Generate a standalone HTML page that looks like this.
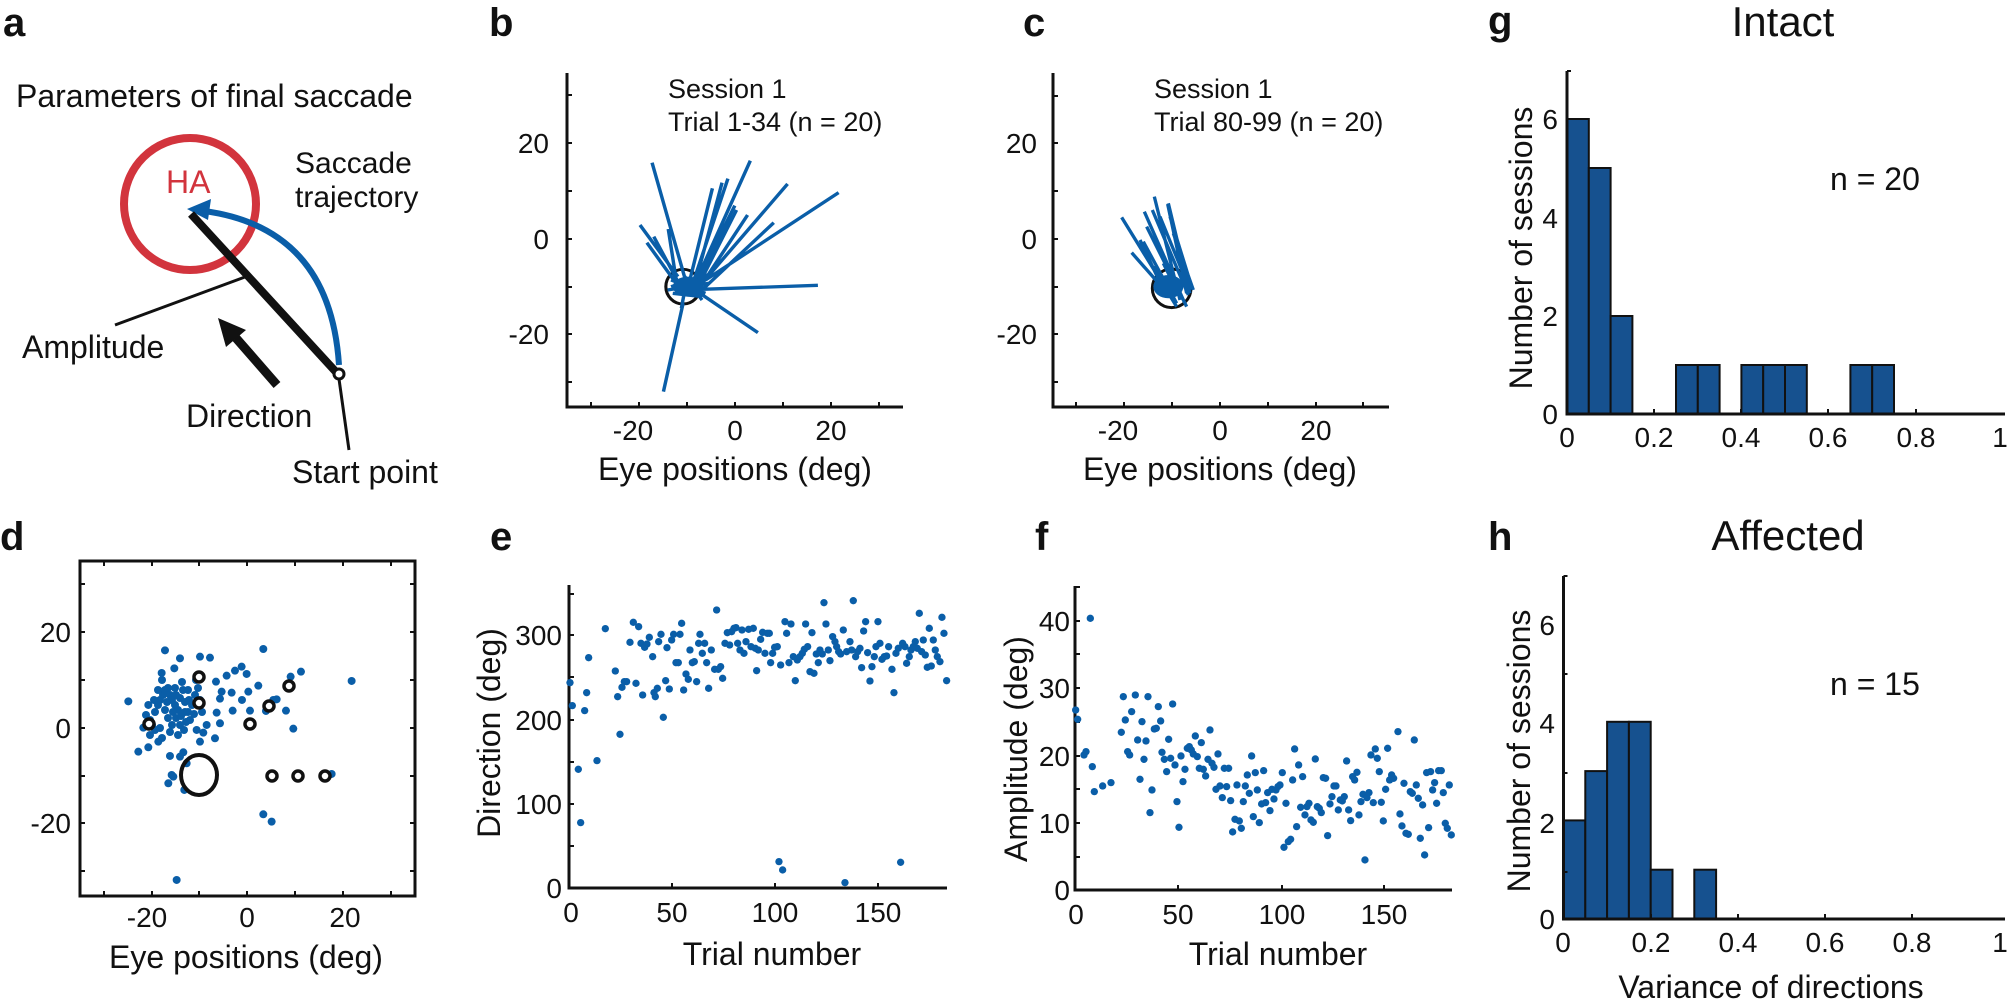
<!DOCTYPE html>
<html><head><meta charset="utf-8"><style>
html,body{margin:0;padding:0;background:#fff;}
svg{display:block;font-family:"Liberation Sans",Arial,sans-serif;}
</style></head><body>
<svg width="2008" height="1004" viewBox="0 0 2008 1004" xmlns="http://www.w3.org/2000/svg">
<rect width="2008" height="1004" fill="#fff"/>
<g font-weight="bold" font-size="40" fill="#111">
<text x="3" y="36">a</text><text x="489" y="36">b</text><text x="1023" y="36">c</text><text x="1488" y="34">g</text>
<text x="0" y="550">d</text><text x="490" y="550">e</text><text x="1035" y="550">f</text><text x="1488" y="550">h</text>
</g>

<!-- Panel a -->
<text x="16" y="107" font-size="32" fill="#111">Parameters of final saccade</text>
<circle cx="190" cy="204" r="66" fill="none" stroke="#d2343d" stroke-width="8"/>
<text x="166" y="193" font-size="32" fill="#d2343d">HA</text>
<path d="M339,365 Q330,228 204,211" fill="none" stroke="#0a5ea8" stroke-width="6"/>
<polygon points="187,209 211,199 208,220" fill="#0a5ea8"/>
<line x1="191" y1="214" x2="336" y2="372" stroke="#111" stroke-width="8"/>
<line x1="245" y1="277" x2="115" y2="325" stroke="#111" stroke-width="3"/>
<line x1="277" y1="385" x2="236" y2="338" stroke="#111" stroke-width="9"/>
<polygon points="218,318 246,330 226,347" fill="#111"/>
<circle cx="339" cy="374" r="5" fill="#fff" stroke="#111" stroke-width="3"/>
<line x1="339" y1="379" x2="349" y2="450" stroke="#111" stroke-width="3"/>
<text x="295" y="173" font-size="30" fill="#111">Saccade</text>
<text x="295" y="207" font-size="30" fill="#111">trajectory</text>
<text x="22" y="358" font-size="32" fill="#111">Amplitude</text>
<text x="186" y="427" font-size="32" fill="#111">Direction</text>
<text x="292" y="483" font-size="32" fill="#111">Start point</text>

<!-- Panel b -->
<g stroke="#111" stroke-width="3" fill="none">
<path d="M567,73 V407 H903"/>
</g>
<g stroke="#111" stroke-width="2">
<path d="M567,95 h5 M567,143 h5 M567,191 h5 M567,239 h5 M567,287 h5 M567,334 h5 M567,382 h5"/>
<path d="M591,407 v-5 M639,407 v-5 M687,407 v-5 M735,407 v-5 M783,407 v-5 M831,407 v-5 M879,407 v-5"/>
</g>
<g font-size="28" fill="#111" text-anchor="end">
<text x="549" y="153">20</text><text x="549" y="249">0</text><text x="549" y="344">-20</text>
</g>
<g font-size="28" fill="#111" text-anchor="middle">
<text x="633" y="440">-20</text><text x="735" y="440">0</text><text x="831" y="440">20</text>
<text x="735" y="480" font-size="32">Eye positions (deg)</text>
</g>
<text x="668" y="98" font-size="27" fill="#111">Session 1</text>
<text x="668" y="131" font-size="27" fill="#111">Trial 1-34 (n = 20)</text>
<g transform="translate(540,60) scale(0.3448,0.3333)">
<ellipse cx="415" cy="680" rx="50" ry="52" fill="none" stroke="#111" stroke-width="9"/>
<g stroke="#0a5ea8" stroke-width="10" fill="none">
<path d="M430,690L325,308M450,670L610,302M440,680L545,356M445,690L528,368M430,680L500,385M470,670L718,372M480,660L866,398M455,665L565,437M460,675L570,450M465,680L602,465M470,690L678,488M400,650L290,495M395,660L372,507M395,670L310,548M400,665L330,530M470,688L806,676M450,690L632,818M415,730L358,995M380,660L480,700M420,650L470,720M400,700L460,650M390,690L470,680M410,745L420,690M380,680L500,640M370,690L490,670M385,700L470,710"/>
</g>
<ellipse cx="430" cy="680" rx="45" ry="30" fill="#0a5ea8"/>
</g>

<!-- Panel c -->
<g stroke="#111" stroke-width="3" fill="none"><path d="M1053,73 V407 H1389"/></g>
<g stroke="#111" stroke-width="2">
<path d="M1053,96 h5 M1053,143 h5 M1053,191 h5 M1053,239 h5 M1053,287 h5 M1053,334 h5 M1053,382 h5"/>
<path d="M1076,407 v-5 M1124,407 v-5 M1172,407 v-5 M1220,407 v-5 M1268,407 v-5 M1316,407 v-5 M1363,407 v-5"/>
</g>
<g font-size="28" fill="#111" text-anchor="end">
<text x="1037" y="153">20</text><text x="1037" y="249">0</text><text x="1037" y="344">-20</text>
</g>
<g font-size="28" fill="#111" text-anchor="middle">
<text x="1118" y="440">-20</text><text x="1220" y="440">0</text><text x="1316" y="440">20</text>
<text x="1220" y="480" font-size="32">Eye positions (deg)</text>
</g>
<text x="1154" y="98" font-size="27" fill="#111">Session 1</text>
<text x="1154" y="131" font-size="27" fill="#111">Trial 80-99 (n = 20)</text>
<g transform="translate(1040,60) scale(0.3333)">
<circle cx="395" cy="685" r="58" fill="none" stroke="#111" stroke-width="9"/>
<g stroke="#0a5ea8" stroke-width="10" fill="none">
<path d="M410,740L245,472M420,720L343,410M440,700L383,432M430,720L313,455M445,705L337,450M400,720L275,578M410,730L310,545M450,690L360,470M435,730L330,520M455,680L390,470M420,700L350,560M380,710L300,540M440,740L320,500M400,700L340,620M460,690L400,520M420,710L370,610M450,700L385,430"/>
</g>
<ellipse cx="385" cy="680" rx="45" ry="35" fill="#0a5ea8"/>
</g>

<!-- Panel d -->
<rect x="80" y="561" width="335" height="335" fill="none" stroke="#111" stroke-width="3"/>
<g stroke="#111" stroke-width="2">
<path d="M80,584h5M80,632h5M80,680h5M80,728h5M80,776h5M80,823h5M80,871h5"/>
<path d="M415,584h-5M415,632h-5M415,680h-5M415,728h-5M415,776h-5M415,823h-5M415,871h-5"/>
<path d="M104,896v-5M152,896v-5M199,896v-5M247,896v-5M295,896v-5M343,896v-5M391,896v-5"/>
<path d="M104,561v5M152,561v5M199,561v5M247,561v5M295,561v5M343,561v5M391,561v5"/>
</g>
<g font-size="28" fill="#111" text-anchor="end">
<text x="71" y="642">20</text><text x="71" y="738">0</text><text x="71" y="833">-20</text>
</g>
<g font-size="28" fill="#111" text-anchor="middle">
<text x="147" y="927">-20</text><text x="247" y="927">0</text><text x="345" y="927">20</text>
<text x="246" y="968" font-size="32">Eye positions (deg)</text>
</g>
<g fill="#0a5ea8">
<g transform="translate(0,500) scale(0.3333)">
<circle cx="385" cy="604" r="12"/><circle cx="495" cy="451" r="12"/><circle cx="540" cy="475" r="12"/><circle cx="485" cy="519" r="12"/><circle cx="523" cy="505" r="12"/><circle cx="600" cy="470" r="12"/><circle cx="630" cy="473" r="12"/><circle cx="790" cy="447" r="12"/><circle cx="725" cy="500" r="12"/><circle cx="740" cy="522" r="12"/><circle cx="705" cy="512" r="12"/><circle cx="680" cy="527" r="12"/><circle cx="648" cy="545" r="12"/><circle cx="775" cy="557" r="12"/><circle cx="903" cy="515" r="12"/><circle cx="872" cy="530" r="12"/><circle cx="1055" cy="543" r="12"/><circle cx="445" cy="615" r="12"/><circle cx="430" cy="683" r="12"/><circle cx="415" cy="755" r="12"/><circle cx="445" cy="742" r="12"/><circle cx="475" cy="725" r="12"/><circle cx="510" cy="768" r="12"/><circle cx="540" cy="770" r="12"/><circle cx="550" cy="757" r="12"/><circle cx="505" cy="850" r="12"/><circle cx="515" cy="825" r="12"/><circle cx="553" cy="870" r="12"/><circle cx="530" cy="1140" r="12"/><circle cx="790" cy="943" r="12"/><circle cx="815" cy="965" r="12"/><circle cx="995" cy="822" r="12"/><circle cx="880" cy="686" r="12"/><circle cx="858" cy="632" r="12"/><circle cx="830" cy="598" r="12"/><circle cx="798" cy="633" r="12"/><circle cx="750" cy="632" r="12"/><circle cx="726" cy="600" r="12"/><circle cx="745" cy="575" r="12"/><circle cx="695" cy="578" r="12"/><circle cx="665" cy="575" r="12"/><circle cx="660" cy="596" r="12"/><circle cx="698" cy="632" r="12"/><circle cx="650" cy="638" r="12"/><circle cx="660" cy="670" r="12"/><circle cx="645" cy="715" r="12"/><circle cx="620" cy="675" r="12"/><circle cx="610" cy="698" r="12"/><circle cx="600" cy="725" r="12"/><circle cx="590" cy="690" r="12"/><circle cx="520" cy="830" r="12"/><circle cx="560" cy="790" r="12"/><circle cx="820" cy="600" r="12"/>
</g>
<circle cx="150" cy="720" r="4"/><circle cx="155" cy="712" r="4"/><circle cx="158" cy="705" r="4"/><circle cx="160" cy="700" r="4"/><circle cx="163" cy="695" r="4"/><circle cx="165" cy="690" r="4"/><circle cx="168" cy="688" r="4"/><circle cx="170" cy="695" r="4"/><circle cx="172" cy="700" r="4"/><circle cx="175" cy="705" r="4"/><circle cx="178" cy="710" r="4"/><circle cx="180" cy="698" r="4"/><circle cx="183" cy="690" r="4"/><circle cx="185" cy="702" r="4"/><circle cx="188" cy="712" r="4"/><circle cx="190" cy="720" r="4"/><circle cx="192" cy="705" r="4"/><circle cx="195" cy="695" r="4"/><circle cx="198" cy="688" r="4"/><circle cx="200" cy="700" r="4"/><circle cx="165" cy="710" r="4"/><circle cx="168" cy="718" r="4"/><circle cx="172" cy="725" r="4"/><circle cx="176" cy="718" r="4"/><circle cx="180" cy="725" r="4"/><circle cx="184" cy="730" r="4"/><circle cx="170" cy="732" r="4"/><circle cx="160" cy="728" r="4"/><circle cx="155" cy="730" r="4"/><circle cx="150" cy="735" r="4"/><circle cx="162" cy="738" r="4"/><circle cx="178" cy="735" r="4"/><circle cx="186" cy="722" r="4"/><circle cx="194" cy="714" r="4"/><circle cx="202" cy="712" r="4"/><circle cx="175" cy="688" r="4"/><circle cx="182" cy="682" r="4"/><circle cx="188" cy="690" r="4"/><circle cx="196" cy="680" r="4"/><circle cx="162" cy="680" r="4"/><circle cx="158" cy="690" r="4"/><circle cx="154" cy="700" r="4"/><circle cx="167" cy="702" r="4"/><circle cx="173" cy="712" r="4"/><circle cx="181" cy="716" r="4"/><circle cx="189" cy="700" r="4"/><circle cx="146" cy="715" r="4"/><circle cx="152" cy="725" r="4"/><circle cx="176" cy="695" r="4"/><circle cx="185" cy="712" r="4"/>
</g>
<g fill="#fff" stroke="#111" stroke-width="3.5">
<circle cx="199" cy="677" r="5"/><circle cx="199" cy="703" r="5"/><circle cx="149" cy="724" r="5"/><circle cx="250" cy="724" r="5"/><circle cx="269" cy="706" r="5"/><circle cx="289" cy="686" r="5"/><circle cx="272" cy="776" r="5"/><circle cx="298" cy="776" r="5"/><circle cx="325" cy="776" r="5"/>
</g>
<ellipse cx="199" cy="775" rx="18" ry="20" fill="none" stroke="#111" stroke-width="4"/>

<!-- Panel e -->
<g stroke="#111" stroke-width="3" fill="none"><path d="M569,585 V888 H947"/></g>
<g stroke="#111" stroke-width="2">
<path d="M569,594h5M569,635h5M569,677h5M569,720h5M569,762h5M569,804h5M569,846h5"/>
<path d="M672,888v-5M775,888v-5M878,888v-5"/>
</g>
<g font-size="28" fill="#111" text-anchor="end">
<text x="562" y="645">300</text><text x="562" y="730">200</text><text x="562" y="814">100</text><text x="562" y="898">0</text>
</g>
<g font-size="28" fill="#111" text-anchor="middle">
<text x="571" y="922">0</text><text x="672" y="922">50</text><text x="775" y="922">100</text><text x="878" y="922">150</text>
<text x="772" y="965" font-size="32">Trial number</text>
</g>
<text transform="translate(500,733) rotate(-90)" text-anchor="middle" font-size="32" fill="#111">Direction (deg)</text>
<g fill="#0a5ea8" transform="translate(470,500) scale(0.3333)">
<circle cx="300" cy="548" r="11"/><circle cx="307" cy="617" r="11"/><circle cx="325" cy="808" r="11"/><circle cx="332" cy="968" r="11"/><circle cx="344" cy="632" r="11"/><circle cx="350" cy="578" r="11"/><circle cx="356" cy="473" r="11"/><circle cx="381" cy="782" r="11"/><circle cx="406" cy="386" r="11"/><circle cx="436" cy="513" r="11"/><circle cx="443" cy="590" r="11"/><circle cx="450" cy="703" r="11"/><circle cx="456" cy="562" r="11"/><circle cx="463" cy="545" r="11"/><circle cx="470" cy="545" r="11"/><circle cx="480" cy="427" r="11"/><circle cx="490" cy="367" r="11"/><circle cx="498" cy="550" r="11"/><circle cx="506" cy="380" r="11"/><circle cx="513" cy="430" r="11"/><circle cx="518" cy="585" r="11"/><circle cx="524" cy="442" r="11"/><circle cx="531" cy="432" r="11"/><circle cx="538" cy="412" r="11"/><circle cx="548" cy="470" r="11"/><circle cx="552" cy="578" r="11"/><circle cx="556" cy="590" r="11"/><circle cx="562" cy="565" r="11"/><circle cx="566" cy="425" r="11"/><circle cx="573" cy="403" r="11"/><circle cx="580" cy="652" r="11"/><circle cx="587" cy="542" r="11"/><circle cx="591" cy="443" r="11"/><circle cx="598" cy="567" r="11"/><circle cx="605" cy="420" r="11"/><circle cx="611" cy="403" r="11"/><circle cx="618" cy="488" r="11"/><circle cx="625" cy="488" r="11"/><circle cx="630" cy="403" r="11"/><circle cx="635" cy="370" r="11"/><circle cx="641" cy="570" r="11"/><circle cx="648" cy="522" r="11"/><circle cx="655" cy="538" r="11"/><circle cx="660" cy="450" r="11"/><circle cx="667" cy="488" r="11"/><circle cx="673" cy="485" r="11"/><circle cx="680" cy="545" r="11"/><circle cx="686" cy="430" r="11"/><circle cx="690" cy="403" r="11"/><circle cx="697" cy="460" r="11"/><circle cx="704" cy="430" r="11"/><circle cx="710" cy="488" r="11"/><circle cx="716" cy="565" r="11"/><circle cx="724" cy="450" r="11"/><circle cx="734" cy="508" r="11"/><circle cx="740" cy="330" r="11"/><circle cx="745" cy="508" r="11"/><circle cx="752" cy="500" r="11"/><circle cx="758" cy="535" r="11"/><circle cx="765" cy="430" r="11"/><circle cx="772" cy="398" r="11"/><circle cx="779" cy="435" r="11"/><circle cx="785" cy="395" r="11"/><circle cx="792" cy="385" r="11"/><circle cx="798" cy="383" r="11"/><circle cx="803" cy="430" r="11"/><circle cx="810" cy="450" r="11"/><circle cx="816" cy="390" r="11"/><circle cx="822" cy="460" r="11"/><circle cx="828" cy="425" r="11"/><circle cx="836" cy="388" r="11"/><circle cx="843" cy="440" r="11"/><circle cx="850" cy="385" r="11"/><circle cx="856" cy="445" r="11"/><circle cx="860" cy="512" r="11"/><circle cx="865" cy="450" r="11"/><circle cx="872" cy="418" r="11"/><circle cx="878" cy="397" r="11"/><circle cx="885" cy="460" r="11"/><circle cx="892" cy="400" r="11"/><circle cx="898" cy="400" r="11"/><circle cx="902" cy="488" r="11"/><circle cx="908" cy="460" r="11"/><circle cx="914" cy="442" r="11"/><circle cx="922" cy="440" r="11"/><circle cx="927" cy="1085" r="11"/><circle cx="932" cy="495" r="11"/><circle cx="938" cy="1110" r="11"/><circle cx="945" cy="365" r="11"/><circle cx="950" cy="400" r="11"/><circle cx="957" cy="488" r="11"/><circle cx="963" cy="372" r="11"/><circle cx="970" cy="470" r="11"/><circle cx="976" cy="542" r="11"/><circle cx="982" cy="480" r="11"/><circle cx="990" cy="470" r="11"/><circle cx="997" cy="460" r="11"/><circle cx="1003" cy="448" r="11"/><circle cx="1007" cy="372" r="11"/><circle cx="1013" cy="440" r="11"/><circle cx="1020" cy="515" r="11"/><circle cx="1026" cy="398" r="11"/><circle cx="1032" cy="520" r="11"/><circle cx="1039" cy="462" r="11"/><circle cx="1045" cy="488" r="11"/><circle cx="1050" cy="450" r="11"/><circle cx="1057" cy="462" r="11"/><circle cx="1062" cy="308" r="11"/><circle cx="1068" cy="372" r="11"/><circle cx="1075" cy="450" r="11"/><circle cx="1080" cy="482" r="11"/><circle cx="1088" cy="410" r="11"/><circle cx="1095" cy="425" r="11"/><circle cx="1100" cy="440" r="11"/><circle cx="1106" cy="455" r="11"/><circle cx="1112" cy="462" r="11"/><circle cx="1120" cy="390" r="11"/><circle cx="1125" cy="1148" r="11"/><circle cx="1130" cy="455" r="11"/><circle cx="1140" cy="425" r="11"/><circle cx="1145" cy="450" r="11"/><circle cx="1150" cy="302" r="11"/><circle cx="1157" cy="470" r="11"/><circle cx="1163" cy="455" r="11"/><circle cx="1170" cy="445" r="11"/><circle cx="1175" cy="503" r="11"/><circle cx="1181" cy="393" r="11"/><circle cx="1187" cy="365" r="11"/><circle cx="1193" cy="458" r="11"/><circle cx="1200" cy="543" r="11"/><circle cx="1206" cy="500" r="11"/><circle cx="1213" cy="470" r="11"/><circle cx="1218" cy="440" r="11"/><circle cx="1224" cy="365" r="11"/><circle cx="1230" cy="430" r="11"/><circle cx="1236" cy="478" r="11"/><circle cx="1243" cy="470" r="11"/><circle cx="1250" cy="468" r="11"/><circle cx="1256" cy="440" r="11"/><circle cx="1266" cy="508" r="11"/><circle cx="1272" cy="578" r="11"/><circle cx="1278" cy="460" r="11"/><circle cx="1285" cy="445" r="11"/><circle cx="1292" cy="1087" r="11"/><circle cx="1298" cy="430" r="11"/><circle cx="1305" cy="440" r="11"/><circle cx="1310" cy="490" r="11"/><circle cx="1318" cy="470" r="11"/><circle cx="1323" cy="450" r="11"/><circle cx="1330" cy="440" r="11"/><circle cx="1336" cy="425" r="11"/><circle cx="1342" cy="445" r="11"/><circle cx="1348" cy="340" r="11"/><circle cx="1355" cy="455" r="11"/><circle cx="1360" cy="420" r="11"/><circle cx="1366" cy="465" r="11"/><circle cx="1372" cy="502" r="11"/><circle cx="1378" cy="385" r="11"/><circle cx="1384" cy="498" r="11"/><circle cx="1390" cy="420" r="11"/><circle cx="1396" cy="450" r="11"/><circle cx="1402" cy="470" r="11"/><circle cx="1410" cy="485" r="11"/><circle cx="1416" cy="352" r="11"/><circle cx="1422" cy="400" r="11"/><circle cx="1430" cy="542" r="11"/>
</g>

<!-- Panel f -->
<g stroke="#111" stroke-width="3" fill="none"><path d="M1075,586 V890 H1452"/></g>
<g stroke="#111" stroke-width="2">
<path d="M1075,587h5M1075,621h5M1075,654h5M1075,688h5M1075,722h5M1075,756h5M1075,789h5M1075,823h5M1075,857h5"/>
<path d="M1178,890v-5M1282,890v-5M1384,890v-5"/>
</g>
<g font-size="28" fill="#111" text-anchor="end">
<text x="1070" y="631">40</text><text x="1070" y="698">30</text><text x="1070" y="766">20</text><text x="1070" y="833">10</text><text x="1070" y="900">0</text>
</g>
<g font-size="28" fill="#111" text-anchor="middle">
<text x="1076" y="924">0</text><text x="1178" y="924">50</text><text x="1282" y="924">100</text><text x="1384" y="924">150</text>
<text x="1278" y="965" font-size="32">Trial number</text>
</g>
<text transform="translate(1027,749) rotate(-90)" text-anchor="middle" font-size="32" fill="#111">Amplitude (deg)</text>
<g fill="#0a5ea8" transform="translate(980,500) scale(0.3333)">
<circle cx="287" cy="630" r="11"/><circle cx="293" cy="658" r="11"/><circle cx="312" cy="765" r="11"/><circle cx="318" cy="755" r="11"/><circle cx="331" cy="355" r="11"/><circle cx="337" cy="800" r="11"/><circle cx="343" cy="875" r="11"/><circle cx="368" cy="858" r="11"/><circle cx="393" cy="848" r="11"/><circle cx="424" cy="697" r="11"/><circle cx="430" cy="590" r="11"/><circle cx="436" cy="660" r="11"/><circle cx="443" cy="755" r="11"/><circle cx="449" cy="765" r="11"/><circle cx="455" cy="635" r="11"/><circle cx="466" cy="585" r="11"/><circle cx="473" cy="720" r="11"/><circle cx="480" cy="838" r="11"/><circle cx="486" cy="665" r="11"/><circle cx="492" cy="778" r="11"/><circle cx="498" cy="723" r="11"/><circle cx="504" cy="590" r="11"/><circle cx="516" cy="870" r="11"/><circle cx="510" cy="938" r="11"/><circle cx="523" cy="687" r="11"/><circle cx="529" cy="685" r="11"/><circle cx="535" cy="620" r="11"/><circle cx="542" cy="663" r="11"/><circle cx="546" cy="757" r="11"/><circle cx="553" cy="778" r="11"/><circle cx="560" cy="815" r="11"/><circle cx="566" cy="718" r="11"/><circle cx="572" cy="775" r="11"/><circle cx="578" cy="612" r="11"/><circle cx="585" cy="795" r="11"/><circle cx="591" cy="905" r="11"/><circle cx="597" cy="982" r="11"/><circle cx="603" cy="768" r="11"/><circle cx="609" cy="845" r="11"/><circle cx="615" cy="808" r="11"/><circle cx="622" cy="745" r="11"/><circle cx="628" cy="740" r="11"/><circle cx="634" cy="750" r="11"/><circle cx="640" cy="762" r="11"/><circle cx="646" cy="708" r="11"/><circle cx="652" cy="770" r="11"/><circle cx="658" cy="805" r="11"/><circle cx="664" cy="728" r="11"/><circle cx="670" cy="808" r="11"/><circle cx="677" cy="828" r="11"/><circle cx="684" cy="778" r="11"/><circle cx="690" cy="690" r="11"/><circle cx="696" cy="790" r="11"/><circle cx="702" cy="802" r="11"/><circle cx="708" cy="868" r="11"/><circle cx="714" cy="762" r="11"/><circle cx="720" cy="858" r="11"/><circle cx="727" cy="893" r="11"/><circle cx="733" cy="805" r="11"/><circle cx="740" cy="860" r="11"/><circle cx="746" cy="805" r="11"/><circle cx="752" cy="902" r="11"/><circle cx="758" cy="996" r="11"/><circle cx="765" cy="958" r="11"/><circle cx="771" cy="855" r="11"/><circle cx="778" cy="963" r="11"/><circle cx="784" cy="985" r="11"/><circle cx="790" cy="905" r="11"/><circle cx="796" cy="858" r="11"/><circle cx="802" cy="825" r="11"/><circle cx="808" cy="880" r="11"/><circle cx="815" cy="768" r="11"/><circle cx="820" cy="950" r="11"/><circle cx="826" cy="818" r="11"/><circle cx="832" cy="870" r="11"/><circle cx="838" cy="968" r="11"/><circle cx="845" cy="912" r="11"/><circle cx="851" cy="812" r="11"/><circle cx="857" cy="908" r="11"/><circle cx="863" cy="878" r="11"/><circle cx="870" cy="932" r="11"/><circle cx="876" cy="868" r="11"/><circle cx="882" cy="897" r="11"/><circle cx="888" cy="870" r="11"/><circle cx="894" cy="860" r="11"/><circle cx="900" cy="855" r="11"/><circle cx="907" cy="818" r="11"/><circle cx="912" cy="1042" r="11"/><circle cx="918" cy="910" r="11"/><circle cx="925" cy="1025" r="11"/><circle cx="932" cy="1018" r="11"/><circle cx="938" cy="840" r="11"/><circle cx="944" cy="747" r="11"/><circle cx="950" cy="980" r="11"/><circle cx="956" cy="795" r="11"/><circle cx="962" cy="922" r="11"/><circle cx="968" cy="830" r="11"/><circle cx="975" cy="945" r="11"/><circle cx="981" cy="920" r="11"/><circle cx="987" cy="910" r="11"/><circle cx="993" cy="960" r="11"/><circle cx="1000" cy="967" r="11"/><circle cx="1006" cy="777" r="11"/><circle cx="1012" cy="920" r="11"/><circle cx="1018" cy="925" r="11"/><circle cx="1024" cy="938" r="11"/><circle cx="1030" cy="833" r="11"/><circle cx="1037" cy="835" r="11"/><circle cx="1043" cy="1007" r="11"/><circle cx="1050" cy="912" r="11"/><circle cx="1056" cy="890" r="11"/><circle cx="1062" cy="858" r="11"/><circle cx="1068" cy="858" r="11"/><circle cx="1075" cy="930" r="11"/><circle cx="1081" cy="900" r="11"/><circle cx="1087" cy="903" r="11"/><circle cx="1093" cy="890" r="11"/><circle cx="1100" cy="783" r="11"/><circle cx="1106" cy="930" r="11"/><circle cx="1112" cy="962" r="11"/><circle cx="1118" cy="830" r="11"/><circle cx="1124" cy="840" r="11"/><circle cx="1131" cy="817" r="11"/><circle cx="1137" cy="945" r="11"/><circle cx="1143" cy="905" r="11"/><circle cx="1149" cy="883" r="11"/><circle cx="1155" cy="1080" r="11"/><circle cx="1161" cy="893" r="11"/><circle cx="1167" cy="878" r="11"/><circle cx="1173" cy="765" r="11"/><circle cx="1180" cy="908" r="11"/><circle cx="1186" cy="747" r="11"/><circle cx="1192" cy="775" r="11"/><circle cx="1198" cy="815" r="11"/><circle cx="1204" cy="907" r="11"/><circle cx="1210" cy="963" r="11"/><circle cx="1217" cy="868" r="11"/><circle cx="1223" cy="745" r="11"/><circle cx="1229" cy="840" r="11"/><circle cx="1235" cy="825" r="11"/><circle cx="1241" cy="835" r="11"/><circle cx="1254" cy="695" r="11"/><circle cx="1260" cy="942" r="11"/><circle cx="1266" cy="978" r="11"/><circle cx="1272" cy="850" r="11"/><circle cx="1278" cy="1000" r="11"/><circle cx="1285" cy="1003" r="11"/><circle cx="1291" cy="875" r="11"/><circle cx="1297" cy="880" r="11"/><circle cx="1303" cy="720" r="11"/><circle cx="1309" cy="855" r="11"/><circle cx="1315" cy="895" r="11"/><circle cx="1321" cy="1015" r="11"/><circle cx="1328" cy="915" r="11"/><circle cx="1334" cy="1065" r="11"/><circle cx="1340" cy="818" r="11"/><circle cx="1346" cy="983" r="11"/><circle cx="1352" cy="815" r="11"/><circle cx="1358" cy="870" r="11"/><circle cx="1364" cy="848" r="11"/><circle cx="1370" cy="910" r="11"/><circle cx="1376" cy="812" r="11"/><circle cx="1384" cy="812" r="11"/><circle cx="1390" cy="878" r="11"/><circle cx="1396" cy="970" r="11"/><circle cx="1402" cy="985" r="11"/><circle cx="1408" cy="855" r="11"/><circle cx="1414" cy="1005" r="11"/>
</g>

<!-- Panel g -->
<text x="1783" y="36" font-size="42" fill="#111" text-anchor="middle">Intact</text>
<g fill="#16518f" stroke="#111" stroke-width="2">
<rect x="1567" y="119" width="21.8" height="295"/><rect x="1588.8" y="168" width="21.8" height="246"/><rect x="1610.6" y="316" width="21.8" height="98"/>
<rect x="1676" y="365" width="21.8" height="49"/><rect x="1697.8" y="365" width="21.8" height="49"/>
<rect x="1741.4" y="365" width="21.8" height="49"/><rect x="1763.2" y="365" width="21.8" height="49"/><rect x="1785" y="365" width="21.8" height="49"/>
<rect x="1850.4" y="365" width="21.8" height="49"/><rect x="1872.2" y="365" width="21.8" height="49"/>
</g>
<g stroke="#111" stroke-width="3" fill="none"><path d="M1567,71 V414 H2005"/></g>
<g stroke="#111" stroke-width="2"><path d="M1567,71h4M1654,414v-5M1741,414v-5M1828,414v-5M1916,414v-5"/></g>
<g font-size="28" fill="#111" text-anchor="end">
<text x="1558" y="129">6</text><text x="1558" y="228">4</text><text x="1558" y="326">2</text><text x="1558" y="424">0</text>
</g>
<g font-size="28" fill="#111" text-anchor="middle">
<text x="1567" y="447">0</text><text x="1654" y="447">0.2</text><text x="1741" y="447">0.4</text><text x="1828" y="447">0.6</text><text x="1916" y="447">0.8</text><text x="2000" y="447">1</text>
</g>
<text x="1830" y="190" font-size="32" fill="#111">n = 20</text>
<text transform="translate(1532,248) rotate(-90)" text-anchor="middle" font-size="32" fill="#111">Number of sessions</text>

<!-- Panel h -->
<text x="1788" y="550" font-size="42" fill="#111" text-anchor="middle">Affected</text>
<g fill="#16518f" stroke="#111" stroke-width="2">
<rect x="1563.5" y="820.4" width="21.8" height="98.6"/><rect x="1585.3" y="771.1" width="21.8" height="147.9"/><rect x="1607.1" y="721.8" width="21.8" height="197.2"/><rect x="1628.9" y="721.8" width="21.8" height="197.2"/><rect x="1650.7" y="869.7" width="21.8" height="49.3"/><rect x="1694.3" y="869.7" width="21.8" height="49.3"/>
</g>
<g stroke="#111" stroke-width="3" fill="none"><path d="M1563.5,576 V919 H2005"/></g>
<g stroke="#111" stroke-width="2"><path d="M1563.5,576h4M1563.5,674h4M1563.5,773h4M1563.5,872h4M1651,919v-5M1738,919v-5M1825,919v-5M1912,919v-5"/></g>
<g font-size="28" fill="#111" text-anchor="end">
<text x="1555" y="635">6</text><text x="1555" y="733">4</text><text x="1555" y="833">2</text><text x="1555" y="929">0</text>
</g>
<g font-size="28" fill="#111" text-anchor="middle">
<text x="1563" y="952">0</text><text x="1651" y="952">0.2</text><text x="1738" y="952">0.4</text><text x="1825" y="952">0.6</text><text x="1912" y="952">0.8</text><text x="2000" y="952">1</text>
</g>
<text x="1830" y="695" font-size="32" fill="#111">n = 15</text>
<text transform="translate(1530,751) rotate(-90)" text-anchor="middle" font-size="32" fill="#111">Number of sessions</text>
<text x="1771" y="998" font-size="32" fill="#111" text-anchor="middle">Variance of directions</text>
</svg>
</body></html>
